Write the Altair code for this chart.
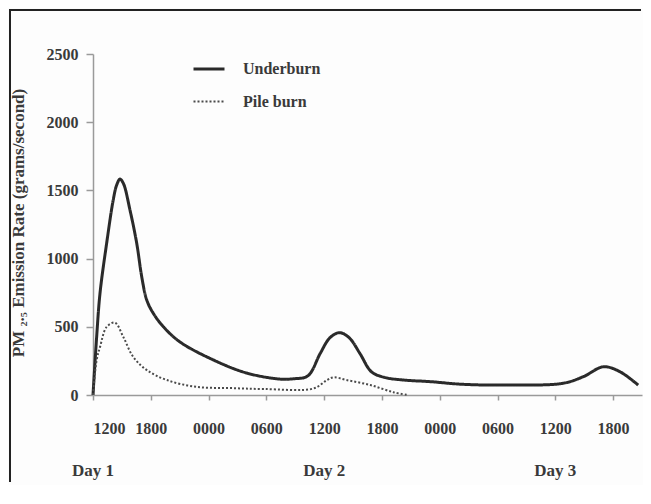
import altair as alt
import pandas as pd

# ---- data ----
underburn_hours = [0, 0.38, 0.73, 1.42, 2.1, 2.46, 2.8, 3.15, 3.84, 4.54, 5.06, 5.58, 6.26,
                   7.3, 9.03, 12.5, 15.96, 19.4, 20.8, 22.3, 23.6, 24.6, 25.6, 26.6, 27.7,
                   28.9, 30.2, 32.2, 35.0, 38.5, 43.6, 48.8, 50.9, 53.0, 54.7, 56.6]
underburn_vals = [0, 427, 748, 1114, 1430, 1540, 1583, 1552, 1356, 1112, 867, 696, 599,
                  501, 389, 257, 161, 117, 119, 140, 306, 420, 457, 420, 306,
                  171, 130, 110, 98, 78, 73, 86, 134, 207, 171, 73]

pile_hours = [0, 0.38, 0.73, 1.42, 2.28, 3.15, 4.18, 5.58, 7.65, 10.8, 14.2, 17.7, 22.9,
              24.3, 25.0, 26.3, 28.8, 31.2, 32.7]
pile_vals = [0, 257, 352, 499, 530, 425, 279, 183, 110, 59, 51, 44, 48,
             110, 130, 110, 73, 20, 0]

tick_hours = [0, 6, 12, 18, 24, 30, 36, 42, 48, 54]
tick_labels = ["1200", "1800", "0000", "0600", "1200", "1800", "0000", "0600", "1200", "1800"]
day_hours = [0, 24, 48]
day_labels = ["Day 1", "Day 2", "Day 3"]
series = ["Underburn", "Pile burn"]

df = pd.concat([
    pd.DataFrame({"hour": underburn_hours, "rate": underburn_vals, "series": series[0]}),
    pd.DataFrame({"hour": pile_hours, "rate": pile_vals, "series": series[1]}),
])
days = pd.DataFrame({"hour": day_hours, "label": day_labels})

W, H = 549, 341
PAD = {"left": 85, "top": 46, "right": 1, "bottom": 90}
FONT = "Liberation Serif"
TXT = "#3a3a3a"
AX = "#9a9a9a"

label_expr = "[" + ",".join("'%s'" % t for t in tick_labels) + "][round(datum.value/6)]"

x = alt.X("hour:Q", scale=alt.Scale(domain=[0, 57], nice=False, zero=False),
          axis=alt.Axis(values=tick_hours, labelExpr=label_expr, title=None,
                        grid=False, tickSize=5, labelPadding=20, labelFontSize=16,
                        labelFont=FONT, labelFontWeight="bold", labelColor=TXT,
                        domainColor=AX, tickColor=AX, domainWidth=1.5, tickWidth=1.5))
y = alt.Y("rate:Q", scale=alt.Scale(domain=[0, 2500], nice=False),
          axis=alt.Axis(values=[0, 500, 1000, 1500, 2000, 2500], format="d", grid=False,
                        title="PM ₂.₅ Emission Rate (grams/second)",
                        titleFont=FONT, titleFontSize=17, titleFontWeight="bold",
                        titleColor=TXT, titleX=-75, titleY=H / 2 - 2, titleAngle=-90,
                        titleAlign="center", titleBaseline="middle",
                        tickSize=7, labelPadding=8, labelFontSize=16, labelFont=FONT,
                        labelFontWeight="bold", labelColor=TXT,
                        domainColor=AX, tickColor=AX, domainWidth=1.5, tickWidth=1.5))

lines = alt.Chart(df).mark_line(interpolate="catmull-rom").encode(
    x=x, y=y,
    color=alt.Color("series:N", scale=alt.Scale(domain=series, range=["#2a2a2a", "#4a4a4a"]),
                    legend=alt.Legend(title=None, orient="none", legendX=99, legendY=-2,
                                      symbolType="stroke", symbolSize=961,
                                      labelFont=FONT, labelFontSize=16, labelFontWeight="bold",
                                      labelColor=TXT, labelOffset=17, rowPadding=8, padding=0)),
    strokeDash=alt.StrokeDash("series:N", scale=alt.Scale(domain=series, range=[[1, 0], [2, 2]])),
    strokeWidth=alt.StrokeWidth("series:N", scale=alt.Scale(domain=series, range=[3, 2])),
)

day_text = alt.Chart(days).mark_text(font=FONT, fontSize=17, fontWeight="bold", color=TXT,
                                     baseline="middle", align="center").encode(
    x=alt.X("hour:Q"), y=alt.value(H + 76), text="label:N")

# decorative page frame (top and left edges only, as in the scanned figure)
frame_top = alt.Chart(days).mark_rect(color="#222", strokeWidth=0).encode(
    x=alt.value(-84), x2=alt.value(W - 1),
    y=alt.value(-45), y2=alt.value(-43))
frame_left = alt.Chart(days).mark_rect(color="#222", strokeWidth=0).encode(
    x=alt.value(-84), x2=alt.value(-82),
    y=alt.value(-45), y2=alt.value(H + PAD["bottom"] - 3))

chart = alt.layer(frame_top, frame_left, lines, day_text).properties(
    width=W, height=H,
    autosize=alt.AutoSizeParams(type="none"),
    padding=PAD,
    background="#fdfdfd",
).configure_view(stroke=None)

chart.save("out.html", embed_options={"renderer": "svg", "actions": False})
